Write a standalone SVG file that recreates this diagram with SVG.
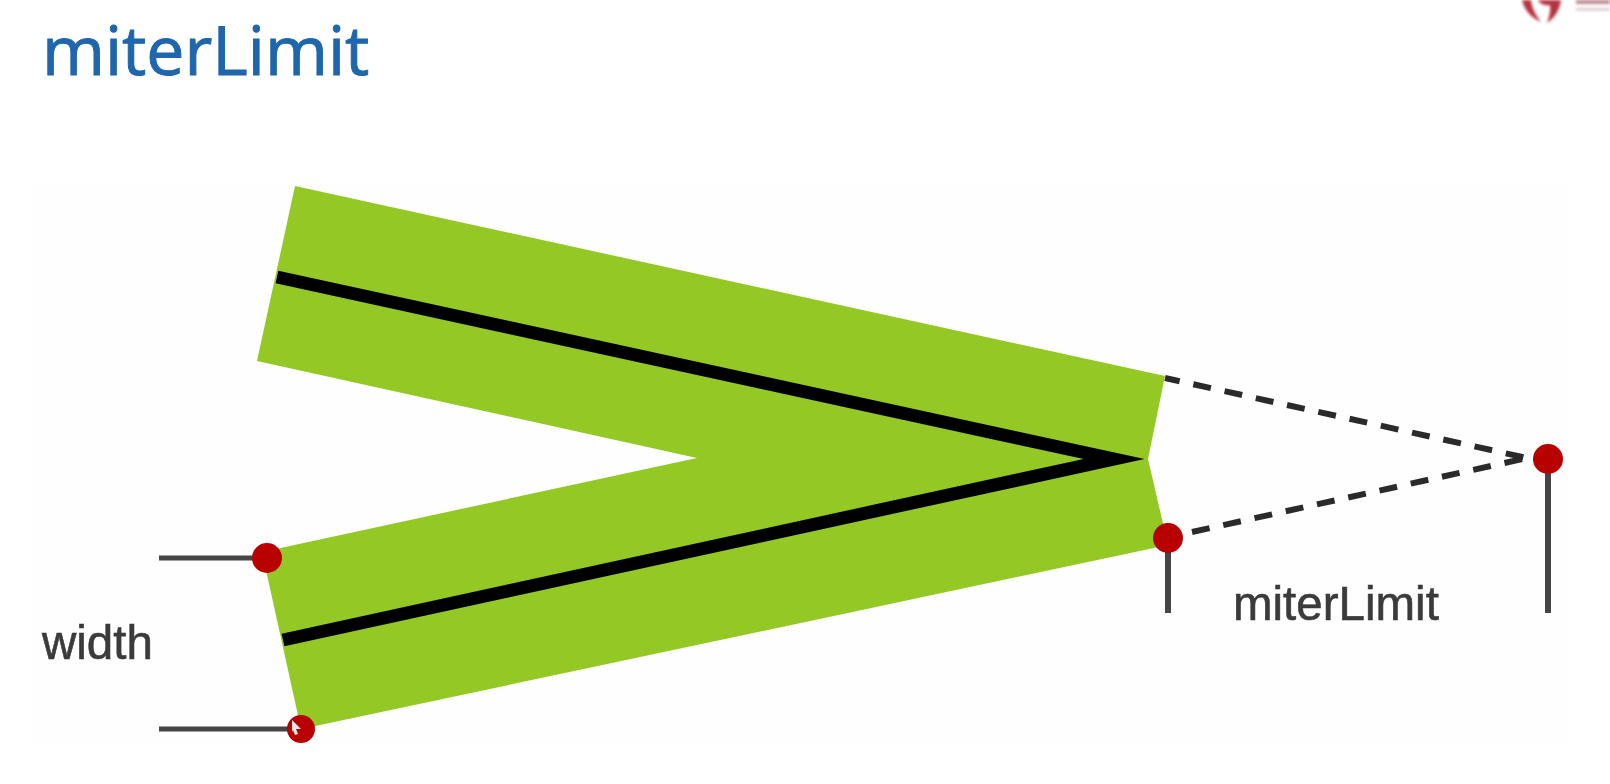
<svg xmlns="http://www.w3.org/2000/svg" width="1610" height="784" viewBox="0 0 1610 784">
<style>
.label{font-family:"Liberation Sans",Arial,sans-serif;font-size:47.5px;fill:#3a3a3a;stroke:#3a3a3a;stroke-width:.6}
.title{font-family:"Open Sans","Noto Sans",sans-serif;font-size:68px;fill:#1f66ac;stroke:#1f66ac;stroke-width:1}
.dot{fill:#b80000}
.lead{fill:none;stroke:#444}
.dash{fill:none;stroke:#2c2c2c;stroke-width:6;stroke-dasharray:18 14}
</style>
<defs>
<filter id="soft" x="-5%" y="-5%" width="110%" height="110%" filterUnits="userSpaceOnUse" primitiveUnits="userSpaceOnUse"><feGaussianBlur stdDeviation="0.7"/></filter>
<filter id="softer" filterUnits="userSpaceOnUse" x="1480" y="-20" width="150" height="70"><feGaussianBlur stdDeviation="1.6"/></filter>
</defs>
<rect width="1610" height="784" fill="#ffffff"/>
<rect x="30" y="185" width="1540" height="560" fill="#fefefe"/>
<g id="logo" filter="url(#softer)"><path d="M1522,0 C1524,9 1530,17 1541,22 C1535,14 1532,8 1531,0 Z M1538,0 C1540,4 1545,6 1550,5 C1551,11 1549,17 1547,23 C1555,18 1560,9 1561,0 Z" fill="#b5303f"/><rect x="1576" y="0" width="34" height="4" fill="#b98a92"/><rect x="1576" y="8" width="34" height="2.5" fill="#dcc4c8"/></g>
<text id="title" class="title" x="42" y="75">miterLimit</text>
<g id="join">
<polygon points="295,186 1165,376 1148,459 1168,545 301,729 262,552 697,458 257,361" fill="#94c825"/>
<path d="M277,277 L1114,459 L283,640" fill="none" stroke="#000" stroke-width="13" stroke-miterlimit="20" filter="url(#soft)"/>
</g>
<g id="connectors" filter="url(#soft)">
<path class="dash" stroke-dashoffset="3" d="M1165,378 L1527,458"/>
<path class="dash" d="M1192,532 L1527,458"/>
<path class="lead" stroke-width="6" d="M1168,540 V613 M1548,459 V613"/>
<path class="lead" stroke-width="5" d="M159,558 H262 M159,729 H296"/>
</g>
<g id="point-miter"><circle class="dot" cx="1548" cy="459" r="15"/></g>
<g id="point-corner"><circle class="dot" cx="1168" cy="538" r="15"/></g>
<g id="point-width-top"><circle class="dot" cx="267" cy="558" r="15"/></g>
<g id="point-width-bottom"><circle class="dot" cx="301" cy="729" r="14"/></g>
<polygon id="cursor" points="292,720 301,729 296,729 298,734 295,735 293,730 292,732" fill="#e8e8e8"/>
<text id="label-width" class="label" x="42" y="659" filter="url(#soft)">width</text>
<text id="label-miterlimit" class="label" x="1233" y="620" filter="url(#soft)">miterLimit</text>
</svg>
